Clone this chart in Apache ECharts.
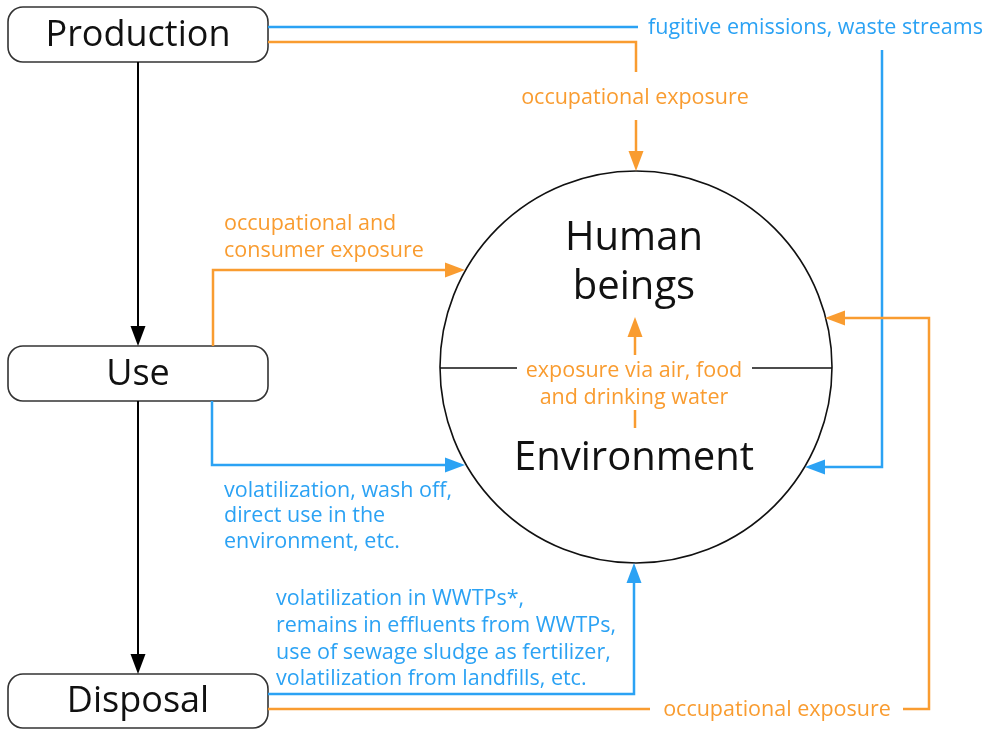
<!DOCTYPE html>
<html>
<head>
<meta charset="utf-8">
<script src="https://cdn.jsdelivr.net/npm/echarts@6/dist/echarts.min.js"></script>
<style>
  html, body { margin: 0; padding: 0; background: #fff; }
  #chart { width: 1000px; height: 730px; }
</style>
</head>
<body>
<div id="chart"></div>
<script>
// diagram coordinates are in pixels of the 1000x730 picture (y grows downwards)
const boxNames = ['Production', 'Use', 'Disposal'];
const boxTops = [7, 346, 674];
const boxBottoms = [62, 401, 728];
const boxLeft = 8;
const boxRight = 268;

const circleCenter = [636, 367];
const circleRadius = 196;

// flows ending with an arrow head
const blackArrows = [
  [[138, 62], [138, 346]],
  [[138, 401], [138, 674]]
];
const blueArrows = [
  [[882, 50], [882, 467], [805, 467]],
  [[212, 401], [212, 465], [465, 465]],
  [[268, 694], [634, 694], [634, 563]]
];
const orangeArrows = [
  [[636, 120], [636, 171]],
  [[213, 346], [213, 270], [465, 270]],
  [[903, 709], [929, 709], [929, 318], [825, 318]],
  [[635, 355], [635, 317]]
];
// plain segments
const blueLines = [
  [[268, 27], [638, 27]]
];
const orangeLines = [
  [[268, 42], [636, 42], [636, 72]],
  [[268, 709], [650, 709]],
  [[635, 410], [635, 428]]
];
const dividerLines = [
  [[440, 368], [517, 368]],
  [[752, 368], [832, 368]]
];

const boxLabels = [
  [138, 36, 'Production'],
  [138, 375, 'Use'],
  [138, 702, 'Disposal']
];
const circleLabels = [
  [634, 239, 'Human'],
  [634, 288, 'beings'],
  [634, 459, 'Environment']
];
const blueLabels = [
  [648, 28, 'fugitive emissions, waste streams'],
  [224, 491, 'volatilization, wash off,'],
  [224, 516, 'direct use in the'],
  [224, 542, 'environment, etc.'],
  [276, 599, 'volatilization in WWTPs*,'],
  [276, 626, 'remains in effluents from WWTPs,'],
  [276, 653, 'use of sewage sludge as fertilizer,'],
  [276, 679, 'volatilization from landfills, etc.']
];
const orangeLabels = [
  [224, 224, 'occupational and'],
  [224, 251, 'consumer exposure']
];
const orangeCenteredLabels = [
  [635, 98, 'occupational exposure'],
  [634, 371, 'exposure via air, food'],
  [634, 398, 'and drinking water'],
  [777, 710, 'occupational exposure']
];

const BLUE = '#2ba2f4';
const ORANGE = '#f99c30';
const FONT = '"Open Sans", "Noto Sans", sans-serif';

var chartDom = document.getElementById('chart');
var myChart = echarts.init(chartDom);

function flowSeries(paths, color, width, arrow, headLen, headWidth) {
  return {
    type: 'custom',
    coordinateSystem: 'cartesian2d',
    silent: true,
    data: paths.map(p => p[0]),
    renderItem: function (params, api) {
      const pts = paths[params.dataIndex].map(p => api.coord(p));
      const children = [];
      if (arrow) {
        const n = pts.length;
        const tip = pts[n - 1];
        const prev = pts[n - 2];
        const dx = tip[0] - prev[0], dy = tip[1] - prev[1];
        const len = Math.sqrt(dx * dx + dy * dy);
        const ux = dx / len, uy = dy / len;
        const base = [tip[0] - ux * headLen, tip[1] - uy * headLen];
        pts[n - 1] = [tip[0] - ux * (headLen - 2), tip[1] - uy * (headLen - 2)];
        children.push({
          type: 'polygon',
          shape: { points: [tip,
            [base[0] - uy * headWidth / 2, base[1] + ux * headWidth / 2],
            [base[0] + uy * headWidth / 2, base[1] - ux * headWidth / 2]] },
          style: { fill: color }
        });
      }
      children.unshift({
        type: 'polyline',
        shape: { points: pts },
        style: { stroke: color, lineWidth: width, fill: null }
      });
      return { type: 'group', children: children };
    }
  };
}

function textSeries(labels, color, size, align, weight) {
  return {
    type: 'custom',
    coordinateSystem: 'cartesian2d',
    silent: true,
    data: labels.map(l => [l[0], l[1]]),
    renderItem: function (params, api) {
      const p = api.coord([api.value(0), api.value(1)]);
      return {
        type: 'text',
        x: p[0],
        y: p[1],
        style: {
          text: labels[params.dataIndex][2],
          fill: color,
          font: (weight || 'normal') + ' ' + size + 'px ' + FONT,
          align: align,
          verticalAlign: 'middle'
        }
      };
    }
  };
}

const option = {
  animation: false,
  backgroundColor: '#fff',
  grid: { left: 0, right: 0, top: 0, bottom: 0 },
  xAxis: { type: 'value', min: 0, max: 1000, show: false },
  yAxis: { type: 'value', min: 0, max: 730, inverse: true, show: false },
  series: [
    {
      type: 'custom',
      coordinateSystem: 'cartesian2d',
      silent: true,
      data: boxNames.map((n, i) => [boxLeft, boxTops[i]]),
      renderItem: function (params, api) {
        const i = params.dataIndex;
        const a = api.coord([boxLeft, boxTops[i]]);
        const b = api.coord([boxRight, boxBottoms[i]]);
        return {
          type: 'rect',
          shape: { x: a[0], y: a[1], width: b[0] - a[0], height: b[1] - a[1], r: 15 },
          style: { fill: '#fff', stroke: '#333', lineWidth: 1.6 }
        };
      }
    },
    {
      type: 'custom',
      coordinateSystem: 'cartesian2d',
      silent: true,
      data: [circleCenter],
      renderItem: function (params, api) {
        const c = api.coord(circleCenter);
        const r = api.size([circleRadius, 0])[0];
        return {
          type: 'circle',
          shape: { cx: c[0], cy: c[1], r: r },
          style: { fill: null, stroke: '#111', lineWidth: 1.6 }
        };
      }
    },
    flowSeries(dividerLines, '#111', 1.6, false),
    flowSeries(blackArrows, '#000', 2, true, 20, 15),
    flowSeries(blueLines, BLUE, 2.5, false),
    flowSeries(orangeLines, ORANGE, 2.5, false),
    flowSeries(blueArrows, BLUE, 2.5, true, 20, 15),
    flowSeries(orangeArrows, ORANGE, 2.5, true, 20, 15),
    textSeries(boxLabels, '#111', 36, 'center'),
    textSeries(circleLabels, '#111', 40, 'center'),
    textSeries(blueLabels, BLUE, 21.5, 'left', 500),
    textSeries(orangeLabels, ORANGE, 21.5, 'left', 500),
    textSeries(orangeCenteredLabels, ORANGE, 21.5, 'center', 500)
  ]
};

option && myChart.setOption(option);
</script>
</body>
</html>
